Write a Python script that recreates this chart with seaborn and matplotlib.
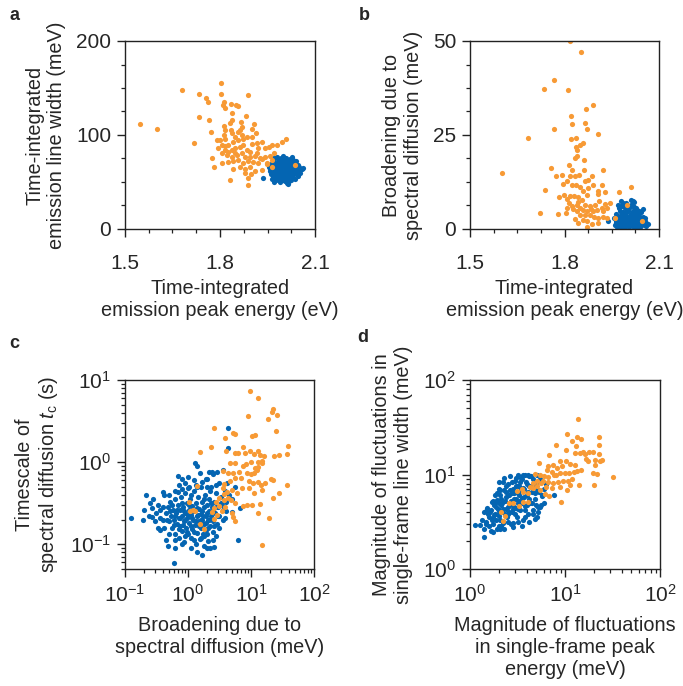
import numpy as np
import pandas as pd
import matplotlib
matplotlib.use("Agg")
import matplotlib.pyplot as plt
import matplotlib.ticker as mticker
import seaborn as sns

# ==============================
# DATA
# ==============================
blue = "#0465b2"
orange = "#f79a35"

# panel a / b : peak energy (eV) vs line width / broadening (meV)
a_orange_x = [1.547, 1.600, 1.681, 1.734, 1.755, 1.763, 1.803, 1.802, 1.888, 1.812, 1.809, 1.816, 1.834, 1.851,
              1.856, 1.734, 1.765, 1.837, 1.882, 1.833, 1.837, 1.866, 1.869, 1.906, 1.902, 1.914, 1.772, 1.816,
              1.719, 1.790, 1.812, 1.816, 1.839, 1.847, 1.856, 1.863, 1.869, 1.858, 1.842, 1.826, 1.805, 1.795,
              1.816, 1.837, 1.847, 1.863, 1.874, 1.884, 1.900, 1.916, 1.932, 1.900, 1.895, 1.921, 1.942, 1.955,
              1.963, 1.979, 1.995, 2.009, 1.776, 1.805, 1.821, 1.837, 1.853, 1.869, 1.879, 1.895, 1.911, 1.926,
              1.942, 1.958, 1.969, 1.781, 1.805, 1.824, 1.842, 1.858, 1.874, 1.890, 1.905, 1.921, 1.934, 1.948,
              1.963, 1.840, 1.863, 1.879, 1.895, 1.911, 1.932, 1.832, 1.890, 1.898, 1.890, 1.963, 2.037, 1.948,
              1.879, 1.816, 1.826, 1.800, 1.847, 1.916, 1.874, 1.884, 1.835, 1.814]
a_orange_y = [111.4, 106.1, 147.9, 143.7, 139.8, 135.1, 155.7, 144.0, 142.2, 135.1, 132.3, 128.8, 133.4, 132.3,
              130.5, 119.2, 116.0, 123.1, 120.6, 113.2, 116.0, 113.5, 108.9, 111.4, 106.8, 101.8, 103.6, 105.4,
              91.9, 94.7, 99.7, 95.4, 101.8, 98.3, 103.2, 105.4, 100.0, 94.7, 92.9, 89.4, 89.4, 85.8,
              84.1, 84.1, 85.8, 87.6, 89.4, 84.1, 90.5, 91.9, 92.9, 98.3, 82.3, 85.8, 85.8, 87.6,
              89.4, 89.4, 92.9, 95.8, 75.2, 80.5, 78.8, 76.3, 78.8, 80.5, 76.3, 77.0, 77.7, 75.2,
              77.0, 77.7, 80.5, 66.0, 70.6, 71.7, 72.7, 73.4, 69.9, 72.7, 71.7, 69.9, 74.1, 69.2,
              73.4, 63.5, 65.6, 63.5, 66.3, 61.7, 62.8, 52.2, 53.9, 58.5, 46.8, 66.3, 68.0, 70.6,
              59.2, 88.3, 82.3, 94.7, 81.2, 81.2, 95.4, 98.3, 105.4, 109.6]

a_blue_x = [1.935, 2.039, 2.058, 2.063, 1.955, 1.958, 1.960, 1.962, 1.965, 1.966, 1.968, 1.970, 1.972, 1.974,
            1.975, 1.977, 1.978, 1.980, 1.981, 1.983, 1.984, 1.985, 1.987, 1.988, 1.990, 1.991, 1.992, 1.994,
            1.995, 1.996, 1.997, 1.998, 2.000, 2.001, 2.002, 2.003, 2.004, 2.006, 2.007, 2.008, 2.009, 2.010,
            2.012, 2.013, 2.014, 2.015, 2.016, 2.018, 2.019, 2.020, 2.021, 2.023, 2.024, 2.025, 2.026, 2.028,
            2.029, 2.030, 2.031, 2.033, 2.034, 2.035, 2.037, 2.038, 2.040, 2.042, 2.044, 2.046, 2.048, 2.050,
            1.972, 2.012, 1.969, 2.027, 2.045, 1.963, 1.986, 2.003, 2.017, 1.993,
            1.962, 1.967, 1.971, 1.976, 1.979, 1.982, 1.986, 1.989, 1.992, 1.994, 1.999, 2.002, 2.005, 2.008,
            2.011, 2.014, 2.017, 2.020, 2.022, 2.027, 2.032, 2.036, 2.041, 2.047, 2.052, 1.957, 1.983, 2.000,
            2.018, 2.005]
a_blue_y = [54.6, 72.7, 63.9, 64.5, 66.0, 62.0, 69.0, 58.0, 65.0, 72.0, 55.0, 61.0, 68.0, 75.0,
            52.0, 58.5, 64.0, 70.0, 77.0, 55.0, 61.0, 67.0, 73.0, 50.5, 58.0, 63.5, 69.5, 76.0,
            53.0, 60.0, 65.5, 71.0, 78.0, 56.0, 62.0, 67.5, 73.5, 51.0, 58.0, 64.0, 69.0, 75.5,
            54.0, 60.5, 66.0, 71.5, 47.5, 57.0, 63.0, 68.5, 74.0, 52.5, 59.5, 65.0, 70.5, 55.5,
            61.5, 67.0, 73.0, 58.0, 64.0, 69.5, 53.5, 61.0, 66.0, 59.0, 63.0, 68.0, 61.5, 65.5,
            50.5, 49.0, 76.0, 77.0, 56.0, 53.0, 64.5, 59.0, 61.0, 66.5,
            66.5, 60.0, 71.0, 63.5, 56.0, 67.5, 60.5, 72.5, 55.5, 66.0, 61.0, 74.5, 58.5, 67.0,
            63.0, 56.5, 73.0, 61.5, 66.5, 63.0, 58.5, 71.5, 62.5, 64.5, 60.0, 64.0, 52.0, 52.5,
            51.5, 69.5]

b_orange_x = [1.817, 1.852, 1.766, 1.735, 1.810, 1.889, 1.867, 1.821, 1.823, 1.865, 1.768, 1.872, 1.907, 1.683,
              1.821, 1.835, 1.849, 1.860, 1.836, 1.841, 1.839, 1.834, 1.862, 1.602, 1.813, 1.756, 1.823, 1.862,
              1.922, 1.774, 1.791, 1.817, 1.833, 1.847, 1.865, 1.876, 1.887, 1.794, 1.807, 1.823, 1.836, 1.849,
              1.860, 1.876, 1.889, 1.907, 1.918, 1.930, 1.905, 1.737, 1.782, 1.798, 1.807, 1.817, 1.830, 1.844,
              1.854, 1.870, 1.844, 1.813, 1.823, 1.839, 1.849, 1.865, 1.881, 1.897, 1.911, 1.929, 1.944, 1.973,
              2.011, 1.807, 1.828, 1.841, 1.858, 1.870, 1.883, 1.891, 1.902, 1.918, 1.934, 1.923, 1.721, 1.778,
              1.805, 1.834, 1.842, 1.860, 1.870, 1.865, 1.881, 1.894, 1.907, 1.921, 1.934, 1.907, 1.888, 1.870,
              1.849, 1.960, 1.997, 2.045]
b_orange_y = [50.1, 47.2, 39.6, 37.2, 36.9, 33.1, 31.8, 30.0, 28.0, 28.1, 26.6, 26.6, 25.2, 24.1,
              24.0, 24.3, 22.4, 22.9, 21.8, 21.1, 19.3, 19.0, 18.3, 14.8, 17.0, 16.1, 15.7, 15.8,
              15.6, 14.1, 14.4, 14.0, 14.2, 14.3, 12.8, 12.9, 14.0, 12.0, 12.7, 11.8, 11.8, 11.2,
              10.2, 10.9, 11.8, 10.2, 11.6, 9.9, 9.4, 10.3, 8.6, 9.1, 8.0, 8.7, 8.9, 8.4,
              7.8, 9.1, 7.3, 6.8, 6.0, 6.5, 5.6, 6.5, 6.0, 6.5, 7.5, 6.7, 6.9, 9.9,
              11.2, 5.6, 5.4, 4.7, 5.1, 4.7, 5.4, 4.7, 5.1, 5.6, 5.7, 4.7, 4.2, 4.1,
              4.3, 2.6, 1.6, 2.5, 2.2, 3.8, 3.8, 3.1, 2.9, 3.3, 2.9, 1.6, 1.4, 0.5,
              3.6, 2.9, 6.5, 2.0]

b_blue_x = [1.937, 1.978, 2.018, 2.050, 2.060, 2.066, 1.958, 1.960, 1.963, 1.965, 1.967, 1.970, 1.972, 1.974,
            1.976, 1.978, 1.980, 1.981, 1.983, 1.985, 1.987, 1.988, 1.990, 1.991, 1.993, 1.995, 1.996, 1.998,
            2.000, 2.001, 2.003, 2.005, 2.006, 2.008, 2.010, 2.011, 2.013, 2.015, 2.016, 2.018, 2.020, 2.021,
            2.023, 2.025, 2.026, 2.028, 2.030, 2.031, 2.033, 2.035, 2.036, 2.038, 2.040, 2.042, 2.044, 2.046,
            2.048, 2.052, 2.055, 1.985, 2.022, 1.970, 2.010,
            1.962, 1.968, 1.973, 1.977, 1.982, 1.986, 1.990, 1.994, 1.997, 2.002, 2.007, 2.012, 2.017, 2.022,
            2.027, 2.032, 2.037, 2.043, 2.049, 2.054, 1.995, 2.004, 2.016, 2.028, 1.975, 2.058, 1.988, 2.041]
b_blue_y = [2.0, 7.5, 7.5, 5.4, 1.5, 1.2, 2.8, 1.0, 4.0, 2.2, 0.6, 3.2, 5.5, 1.6,
            0.3, 3.8, 6.2, 2.5, 1.0, 4.6, 3.0, 0.5, 5.8, 1.8, 3.6, 6.8, 0.9, 2.6,
            4.8, 1.4, 3.3, 0.4, 5.6, 2.0, 4.1, 6.5, 1.1, 2.9, 4.9, 0.7, 3.6, 5.9,
            1.7, 2.6, 4.3, 0.4, 3.0, 5.0, 1.5, 2.3, 3.9, 0.8, 2.8, 4.4, 1.3, 2.2,
            3.3, 1.0, 2.0, 7.0, 7.2, 6.3, 7.8,
            1.5, 3.5, 0.9, 2.4, 4.3, 1.2, 2.8, 4.2, 1.9, 3.0, 1.0, 3.8, 2.1, 0.6,
            3.2, 2.0, 4.8, 3.0, 1.8, 3.0, 5.2, 6.0, 6.2, 5.7, 4.8, 0.7, 1.4, 0.5]

# panel c : log10 of broadening (meV) and log10 of t_c (s)
c_orange_logx = [0.989, 1.106, 0.947, 1.354, 1.328, 1.275, 1.418, 1.397, 0.418, 0.587, 0.709, 0.746, 1.011, 1.063,
                 0.365, 0.603, 0.196, 0.746, 0.799, 0.878, 0.905, 0.984, 1.053, 1.116, 1.143, 1.212, 1.370, 1.444,
                 1.566, 1.593, 0.672, 0.746, 0.878, 0.915, 1.000, 1.106, 1.169, 1.180, 0.561, 0.640, 0.720, 0.815,
                 0.931, 1.000, 1.053, 1.090, 1.116, 1.063, 0.577, 0.667, 0.746, 0.841, 0.968, 1.037, 1.116, 1.159,
                 1.222, 1.312, 1.354, 1.566, 1.450, 1.354, 1.180, 1.053, 0.968, 0.138, 0.550, 0.566, 0.614, 0.693,
                 0.772, 0.852, 0.683, 0.746, 0.640, 0.492, 0.439, 0.587, 0.878, 0.931, 1.011, 1.143, 1.116, 1.286,
                 1.169, 0.720, 0.746, 0.693, 0.418, 0.386, 0.455, 0.534, 0.497, 0.111, 0.032, 0.085, 0.021, 0.249,
                 0.196, 0.418, 0.577]
c_orange_logy = [0.866, 0.781, 0.558, 0.643, 0.606, 0.521, 0.574, 0.379, 0.416, 0.294, 0.351, 0.339, 0.318, 0.330,
                 0.188, 0.136, 0.124, 0.115, 0.107, 0.188, 0.107, 0.136, 0.099, 0.136, 0.087, 0.079, 0.079, 0.087,
                 0.095, 0.197, -0.014, -0.014, -0.043, -0.027, -0.002, 0.006, 0.018, -0.014, -0.104, -0.128, -0.136, -0.116,
                 -0.136, -0.148, -0.136, -0.096, -0.055, -0.075, -0.266, -0.230, -0.197, -0.197, -0.230, -0.258, -0.238, -0.278,
                 -0.258, -0.205, -0.217, -0.278, -0.380, -0.441, -0.339, -0.380, -0.319, -0.286, -0.319, -0.388, -0.359, -0.339,
                 -0.380, -0.319, -0.461, -0.502, -0.433, -0.433, -0.481, -0.542, -0.534, -0.522, -0.522, -0.514, -0.623, -0.676,
                 -1.013, -0.664, -0.717, -0.623, -0.562, -0.603, -0.643, -0.595, -0.530, -0.591, -0.595, -0.583, -0.481, -0.814,
                 -0.757, -0.692, -0.461]

c_blue_logx = [-0.905, -0.577, -0.577, -0.481, -0.481, -0.444, -0.392, -0.381, -0.323, -0.206, -0.228, -0.164, -0.153, 0.005,
               0.111, 0.190, 0.217, 0.296, 0.418, 0.640, 0.640, 0.534, 0.799, 0.587, 0.693, 0.825, 0.333, 0.386,
               0.217, 0.122, 0.296,
               -0.35, -0.32, -0.30, -0.28, -0.27, -0.25, -0.24, -0.22, -0.21, -0.20, -0.19, -0.18, -0.16, -0.15,
               -0.14, -0.13, -0.12, -0.11, -0.10, -0.09, -0.08, -0.07, -0.06, -0.05, -0.04, -0.03, -0.02, -0.01,
               0.00, 0.01, 0.02, 0.03, 0.04, 0.05, 0.06, 0.07, 0.08, 0.09, 0.10, 0.11, 0.12, 0.13,
               0.14, 0.15, 0.16, 0.17, 0.18, 0.19, 0.20, 0.21, 0.22, 0.23, 0.24, 0.25, 0.26, 0.27,
               0.28, 0.29, 0.30, 0.31, 0.32, 0.33, 0.34, 0.35, 0.36, 0.37, 0.38, 0.39, 0.40, 0.42,
               0.43, 0.45, 0.46, 0.48, 0.50, 0.52, 0.55, 0.58, 0.60, 0.62, 0.65, 0.45, 0.35, 0.25,
               0.05, -0.10, -0.30, -0.40, -0.45, -0.50, -0.55, -0.62, -0.70, -0.05, 0.00, -0.10, 0.10, 0.20,
               0.30, 0.40, 0.50, 0.55, 0.15,
               -0.33, -0.29, -0.26, -0.23, -0.20, -0.17, -0.15, -0.12, -0.10, -0.08, -0.06, -0.04, -0.02, 0.00,
               0.02, 0.04, 0.06, 0.08, 0.10, 0.12, 0.14, 0.16, 0.18, 0.20, 0.22, 0.24, 0.26, 0.28,
               0.30, 0.32, 0.34, 0.36, 0.38, 0.40, 0.42, 0.44, 0.47, 0.50, 0.53, 0.56, -0.40, -0.38,
               -0.45, -0.52, -0.60, -0.66, -0.72, -0.30, -0.20, -0.10, 0.05, 0.15, 0.25, 0.35, 0.45, 0.60,
               0.70, 0.75, 0.10, 0.20, -0.05, -0.20, 0.30, 0.40, 0.15, -0.35, 0.02, -0.15, 0.28, 0.46]
c_blue_logy = [-0.684, -0.562, -0.664, -0.522, -0.806, -0.826, -0.359, -0.400, -1.017, -1.049, -1.224, -0.165, -0.368, -0.311,
               -0.014, -0.136, -1.131, -1.049, -1.033, 0.412, 0.168, -0.522, -0.948, -0.684, -0.603, -0.554, -0.116, -0.116,
               -0.238, -0.278, -0.299,
               -0.62, -0.55, -0.72, -0.48, -0.66, -0.80, -0.58, -0.70, -0.45, -0.88, -0.62, -0.75, -0.52, -0.68,
               -0.92, -0.58, -0.78, -0.43, -0.65, -0.84, -0.55, -0.72, -0.97, -0.62, -0.38, -0.80, -0.50, -0.68,
               -0.88, -0.58, -0.74, -0.45, -0.64, -0.92, -0.54, -0.82, -0.70, -0.35, -0.60, -0.77, -1.00, -0.50,
               -0.66, -0.86, -0.42, -0.72, -0.57, -0.94, -0.63, -0.80, -0.48, -0.70, -0.88, -0.55, -0.75, -0.40,
               -0.65, -0.83, -0.52, -0.70, -0.96, -0.60, -0.45, -0.78, -0.66, -0.30, -0.55, -0.85, -0.72, -0.48,
               -0.62, -0.38, -0.75, -0.55, -0.66, -0.42, -0.58, -0.35, -0.48, -0.25, -0.40, -0.90, -1.05, -1.02,
               -1.05, -1.00, -0.88, -0.70, -0.58, -0.62, -0.45, -0.66, -0.58, -0.25, -0.18, -0.33, -0.22, -0.30,
               -0.20, -0.15, -0.25, -0.10, -0.05,
               -0.70, -0.60, -0.52, -0.77, -0.66, -0.58, -0.82, -0.68, -0.50, -0.76, -0.60, -0.70, -0.85, -0.64,
               -0.52, -0.78, -0.68, -0.60, -0.85, -0.72, -0.56, -0.64, -0.78, -0.70, -0.60, -0.66, -0.90, -0.74,
               -0.62, -0.80, -0.70, -0.50, -0.68, -0.60, -0.78, -0.55, -0.65, -0.80, -0.50, -0.70, -0.55, -0.80,
               -0.68, -0.72, -0.50, -0.40, -0.70, -0.40, -0.35, -0.20, -0.40, -0.30, -0.45, -0.35, -0.28, -0.60,
               -0.45, -0.30, -0.95, -0.92, -0.90, -0.95, -0.88, -0.95, -1.10, -0.95, -0.30, -0.28, -0.20, -0.12]

# panel d : log10 of fluctuations in peak energy (meV) and in line width (meV)
d_orange_logx = [1.133, 1.025, 1.130, 1.168, 1.077, 1.116, 0.905, 1.358, 1.358, 0.835, 1.007, 1.105, 1.158, 1.193,
                 1.211, 1.256, 1.298, 1.358, 1.368, 1.316, 1.246, 1.221, 1.386, 1.319, 0.726, 0.818, 0.870, 0.947,
                 1.011, 0.965, 0.919, 1.053, 1.105, 0.807, 0.860, 0.902, 0.947, 1.000, 1.046, 1.095, 1.130, 1.168,
                 1.298, 1.333, 1.502, 0.684, 0.737, 0.779, 0.825, 0.884, 0.772, 0.825, 0.877, 0.930, 0.982, 1.035,
                 1.070, 1.053, 0.947, 0.860, 0.800, 0.747, 1.018, 1.151, 1.302, 0.954, 0.832, 0.789, 0.667, 0.702,
                 0.737, 0.632, 0.614, 0.551, 0.561, 0.491, 0.614, 0.561, 0.667, 0.519, 0.414, 0.456, 0.368, 0.344,
                 0.326, 0.702]
d_orange_logy = [1.584, 1.432, 1.397, 1.372, 1.355, 1.305, 1.316, 1.400, 1.312, 1.203, 1.256, 1.224, 1.224, 1.242,
                 1.214, 1.242, 1.242, 1.217, 1.143, 1.154, 1.143, 1.164, 1.150, 1.101, 1.125, 1.094, 1.101, 1.143,
                 1.143, 1.094, 1.065, 1.108, 1.101, 1.048, 1.023, 0.995, 1.012, 1.012, 1.012, 1.030, 1.041, 1.048,
                 1.019, 1.009, 0.970, 1.002, 0.995, 0.984, 0.977, 0.995, 0.931, 0.917, 0.907, 0.917, 0.931, 0.931,
                 0.952, 0.889, 0.871, 0.854, 0.871, 0.907, 0.836, 0.889, 0.889, 0.713, 0.776, 0.794, 0.914, 0.878,
                 0.836, 0.864, 0.808, 0.843, 0.811, 0.829, 0.713, 0.713, 0.861, 0.667, 0.695, 0.695, 0.564, 0.511,
                 0.600, 0.931]

d_blue_logx = [0.056, 0.147, 0.151, 0.168, 0.239, 0.165, 0.228, 0.246, 0.316, 0.351, 0.456, 0.684, 0.719, 0.884,
               0.737, 0.754, 0.561, 0.614,
               0.20, 0.22, 0.24, 0.25, 0.26, 0.27, 0.28, 0.29, 0.30, 0.31, 0.32, 0.33, 0.34, 0.35,
               0.36, 0.37, 0.38, 0.39, 0.40, 0.41, 0.42, 0.43, 0.44, 0.45, 0.46, 0.47, 0.48, 0.49,
               0.50, 0.51, 0.52, 0.53, 0.54, 0.55, 0.56, 0.57, 0.58, 0.59, 0.60, 0.61, 0.62, 0.63,
               0.64, 0.65, 0.66, 0.67, 0.68, 0.70, 0.72, 0.74, 0.76, 0.78, 0.80, 0.35, 0.30, 0.42,
               0.50, 0.58, 0.26, 0.18, 0.15, 0.22, 0.28, 0.36, 0.45, 0.55, 0.62, 0.70, 0.38, 0.46,
               0.52, 0.33, 0.44, 0.54, 0.48, 0.60, 0.40, 0.30, 0.24,
               0.21, 0.23, 0.25, 0.27, 0.29, 0.31, 0.32, 0.34, 0.35, 0.37, 0.38, 0.40, 0.41, 0.42,
               0.43, 0.45, 0.46, 0.47, 0.48, 0.50, 0.51, 0.52, 0.53, 0.55, 0.56, 0.57, 0.58, 0.60,
               0.61, 0.62, 0.64, 0.65, 0.66, 0.68, 0.69, 0.71, 0.73, 0.44, 0.38, 0.32, 0.28, 0.26,
               0.19, 0.17, 0.13, 0.10, 0.20, 0.33, 0.40, 0.50, 0.58, 0.66, 0.75, 0.78, 0.70, 0.62,
               0.55, 0.36, 0.30, 0.48]
d_blue_logy = [0.466, 0.342, 0.420, 0.501, 0.395, 0.617, 0.713, 0.543, 0.423, 0.483, 0.483, 0.526, 0.600, 0.783,
               0.660, 0.776, 0.995, 0.995,
               0.55, 0.62, 0.48, 0.68, 0.58, 0.52, 0.73, 0.64, 0.45, 0.56, 0.78, 0.68, 0.60, 0.50,
               0.84, 0.72, 0.63, 0.55, 0.90, 0.78, 0.68, 0.48, 0.60, 0.85, 0.74, 0.93, 0.65, 0.55,
               0.80, 0.70, 0.88, 0.62, 0.96, 0.75, 0.52, 0.85, 0.67, 0.92, 0.78, 0.58, 0.88, 0.70,
               0.98, 0.82, 0.62, 0.90, 0.74, 0.85, 0.66, 0.95, 0.78, 0.70, 0.90, 0.92, 0.85, 0.98,
               0.99, 1.00, 0.78, 0.65, 0.60, 0.40, 0.42, 0.42, 0.44, 0.46, 0.50, 0.55, 0.82, 0.66,
               0.72, 0.74, 0.80, 0.84, 0.88, 0.68, 0.58, 0.70, 0.72,
               0.60, 0.52, 0.57, 0.66, 0.58, 0.62, 0.52, 0.70, 0.64, 0.58, 0.76, 0.66, 0.60, 0.84,
               0.72, 0.64, 0.80, 0.58, 0.74, 0.88, 0.64, 0.78, 0.92, 0.70, 0.86, 0.76, 0.62, 0.90,
               0.82, 0.74, 0.88, 0.70, 0.95, 0.80, 0.68, 0.92, 0.82, 0.92, 0.88, 0.84, 0.80, 0.70,
               0.58, 0.48, 0.52, 0.47, 0.45, 0.45, 0.50, 0.50, 0.55, 0.58, 0.68, 0.85, 1.00, 0.98,
               0.95, 0.96, 0.92, 0.96]

# ==============================
# STYLE
# ==============================
sns.set_style("ticks")
plt.rcParams['font.family'] = ['Liberation Sans', 'DejaVu Sans']
plt.rcParams['mathtext.fontset'] = 'custom'
plt.rcParams['mathtext.rm'] = 'Liberation Sans'
plt.rcParams['mathtext.it'] = 'Liberation Sans:italic'
plt.rcParams['axes.linewidth'] = 1.0
plt.rcParams['axes.edgecolor'] = '#222222'

label_fs = 14.3
tick_fs = 15
dot = 14

fig = plt.figure(figsize=(6.83, 6.86), dpi=100)
W, H = 683, 686


def make_ax(x0, y0, x1, y1):
    return fig.add_axes([x0 / W, 1 - y1 / H, (x1 - x0) / W, (y1 - y0) / H])


ax_a = make_ax(125, 41, 315, 229)
ax_b = make_ax(470, 41, 659, 229)
ax_c = make_ax(125, 380, 314, 569)
ax_d = make_ax(470, 380, 660, 569)


def dots(ax, xb, yb, xo, yo):
    sns.scatterplot(x=xb, y=yb, ax=ax, color=blue, s=dot, linewidth=0)
    sns.scatterplot(x=xo, y=yo, ax=ax, color=orange, s=dot, linewidth=0)


# ==============================
# PANEL a
# ==============================
dots(ax_a, a_blue_x, a_blue_y, a_orange_x, a_orange_y)
ax_a.set_xlim(1.5, 2.1)
ax_a.set_ylim(0, 200)
ax_a.xaxis.set_major_locator(mticker.MultipleLocator(0.3))
ax_a.xaxis.set_minor_locator(mticker.MultipleLocator(0.075))
ax_a.yaxis.set_major_locator(mticker.MultipleLocator(100))
ax_a.yaxis.set_minor_locator(mticker.MultipleLocator(25))
ax_a.set_xlabel("Time-integrated\nemission peak energy (eV)", fontsize=label_fs)
ax_a.set_ylabel("Time-integrated\nemission line width (meV)", fontsize=label_fs)

# ==============================
# PANEL b
# ==============================
dots(ax_b, b_blue_x, b_blue_y, b_orange_x, b_orange_y)
ax_b.set_xlim(1.5, 2.1)
ax_b.set_ylim(0, 50)
ax_b.xaxis.set_major_locator(mticker.MultipleLocator(0.3))
ax_b.xaxis.set_minor_locator(mticker.MultipleLocator(0.075))
ax_b.yaxis.set_major_locator(mticker.MultipleLocator(25))
ax_b.yaxis.set_minor_locator(mticker.MultipleLocator(6.25))
ax_b.set_xlabel("Time-integrated\nemission peak energy (eV)", fontsize=label_fs)
ax_b.set_ylabel("Broadening due to\nspectral diffusion (meV)", fontsize=label_fs)

for ax in (ax_a, ax_b):
    ax.xaxis.set_major_formatter(mticker.FormatStrFormatter('%.1f'))
    ax.tick_params(axis='x', which='major', pad=12)
    ax.xaxis.labelpad = 4

# ==============================
# PANEL c
# ==============================
dots(ax_c, 10 ** np.array(c_blue_logx), 10 ** np.array(c_blue_logy),
     10 ** np.array(c_orange_logx), 10 ** np.array(c_orange_logy))
ax_c.set_xscale('log')
ax_c.set_yscale('log')
ax_c.set_xlim(0.1, 100)
ax_c.set_ylim(0.05, 10)
ax_c.set_xlabel("Broadening due to\nspectral diffusion (meV)", fontsize=label_fs)
ax_c.set_ylabel("Timescale of\nspectral diffusion $\\it{t}_{\\rm c}$ (s)", fontsize=label_fs)

# ==============================
# PANEL d
# ==============================
dots(ax_d, 10 ** np.array(d_blue_logx), 10 ** np.array(d_blue_logy),
     10 ** np.array(d_orange_logx), 10 ** np.array(d_orange_logy))
ax_d.set_xscale('log')
ax_d.set_yscale('log')
ax_d.set_xlim(1, 100)
ax_d.set_ylim(1, 100)
ax_d.set_xlabel("Magnitude of fluctuations\nin single-frame peak\nenergy (meV)", fontsize=label_fs)
ax_d.set_ylabel("Magnitude of fluctuations in\nsingle-frame line width (meV)", fontsize=label_fs)

for ax in (ax_c, ax_d):
    ax.xaxis.set_major_locator(mticker.LogLocator(base=10, numticks=10))
    ax.yaxis.set_major_locator(mticker.LogLocator(base=10, numticks=10))
    ax.xaxis.set_minor_locator(mticker.LogLocator(base=10, subs=np.arange(2, 10), numticks=20))
    ax.yaxis.set_minor_locator(mticker.LogLocator(base=10, subs=np.arange(2, 10), numticks=20))
    ax.xaxis.set_minor_formatter(mticker.NullFormatter())
    ax.yaxis.set_minor_formatter(mticker.NullFormatter())
    ax.tick_params(axis='x', which='major', pad=5)
    ax.xaxis.labelpad = 7

for ax in (ax_a, ax_b, ax_c, ax_d):
    ax.tick_params(labelsize=tick_fs, which='both', direction='out', color='#222222')
    ax.tick_params(which='major', length=6, width=1.0)
    ax.tick_params(which='minor', length=3, width=0.9)
    ax.tick_params(axis='y', which='major', pad=4)
    ax.yaxis.labelpad = 7
    for side in ('top', 'right'):
        ax.spines[side].set_visible(True)
    ax.set_facecolor('white')

# panel letters
for letter, px, py in [('a', 9, 16), ('b', 359, 16), ('c', 9, 343), ('d', 357, 338)]:
    fig.text(px / W, 1 - py / H, letter, fontsize=13, fontweight='bold', va='center', ha='left')

fig.savefig("out.png", dpi=100, facecolor='white')
